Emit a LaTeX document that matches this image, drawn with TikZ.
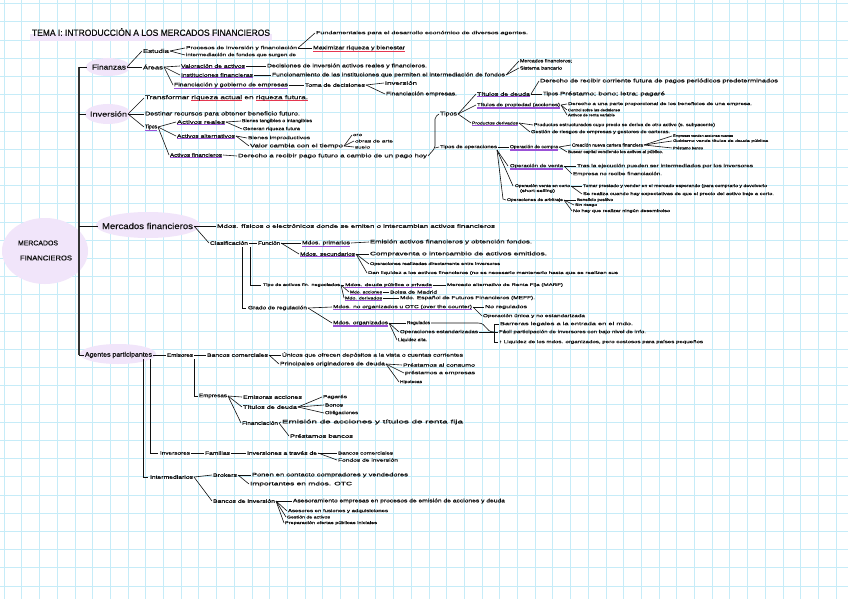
\documentclass[tikz,border=0pt]{standalone}
\usepackage{fontspec}
\setmainfont{Liberation Sans}
\newfontfamily\hw{Liberation Sans}[FakeBold=0.7]
\usepackage{graphicx}
\definecolor{ink}{HTML}{101010}
\definecolor{gridc}{HTML}{C6ECF8}
\definecolor{blobc}{HTML}{F1E5FA}
\definecolor{ulp}{HTML}{9B52D8}
\definecolor{ulr}{HTML}{E5364F}
\newcommand\tx[5]{\node[t] (#1) at (#2) {\resizebox{#3pt}{\height}{\hw\fontsize{#4}{#4}\selectfont #5}};}
\newcommand\lk[2]{\draw[c] ([xshift=1pt]#1.east) -- ([xshift=-1pt]#2.west);}
\newcommand\pu[1]{\draw[ulp,line width=1.2pt] ([yshift=-0.8pt]#1.south west) -- ([yshift=-0.8pt]#1.south east);}
\newcommand\ru[1]{\draw[ulr,line width=1.2pt] ([yshift=-0.8pt]#1.south west) -- ([yshift=-0.8pt]#1.south east);}
\newcommand\rul[1]{\setbox0\hbox{#1}\rlap{\textcolor{ulr}{\rule[-0.3em]{\wd0}{0.2em}}}\box0}
\tikzset{
  t/.style={anchor=west,inner sep=0pt,outer sep=0pt,text=ink},
  c/.style={draw=ink,line width=0.6pt},
  spine/.style={draw=ink!85,line width=1.2pt},
  gridl/.style={draw=gridc,line width=0.5pt},
  blob/.style={fill=blobc}
}
\begin{document}
\begin{tikzpicture}[x=1pt,y=-1pt]
\useasboundingbox (0,0) rectangle (848,599);
\fill[white] (0,0) rectangle (848,599);
\foreach \i in {0,...,48} \draw[gridl] ({4+\i*17.7},0) -- ++(0,599);
\foreach \j in {0,...,33} \draw[gridl] (0,{3.5+\j*18.2}) -- ++(848,0);
% blobs
\fill[blob] (30,34) rectangle (272,41);
\fill[blob] (45,251) ellipse [x radius=43pt, y radius=33pt];
\fill[blob] (108,67) ellipse [x radius=22pt, y radius=9pt];
\fill[blob] (108,114) ellipse [x radius=23pt, y radius=10pt];
\fill[blob] (148,225) ellipse [x radius=52pt, y radius=13pt];
\fill[blob] (118,354) ellipse [x radius=38pt, y radius=10pt];
% title and root
\tx{title}{32,32}{238}{9}{TEMA I: INTRODUCCIÓN A LOS MERCADOS FINANCIEROS}
\tx{root1}{18,243}{40}{7}{MERCADOS}
\tx{root2}{20,258}{52}{7}{FINANCIEROS}
% Finanzas
\tx{fin}{92,67}{34}{7}{Finanzas}
\tx{est}{143,51}{26}{5.5}{Estudia}
\tx{areas}{143,67}{20}{5.5}{Áreas}
\tx{proc}{186,48}{111}{4.5}{Procesos de inversión y financiación}
\tx{interm}{186,55}{110}{4.5}{intermediación de fondos que surgen de}
\tx{fund}{316,33}{212}{4.5}{Fundamentales para el desarrollo económico de diversos agentes.}
\tx{max}{313,48}{92}{5}{Maximizar riqueza y bienestar}
\tx{val}{181,66}{64}{5}{Valoración de activos}
\tx{dec}{267,66}{160}{5}{Decisiones de inversión activos reales y financieros.}
\tx{inst}{181,75}{72}{5}{Instituciones financieras}
\tx{func}{272,75}{233}{5}{Funcionamiento de las instituciones que permiten el intermediación de fondos}
\tx{mfa}{520,61}{52}{4.5}{Mercados financieros;}
\tx{sb}{520,68}{42}{4.5}{Sistema bancario}
\tx{fge}{174,85}{114}{5}{Financiación y gobierno de empresas}
\tx{toma}{305,85}{60}{5}{Toma de decisiones}
\tx{inva}{385,83}{32}{5}{Inversión}
\tx{finemp}{386,94}{71}{5}{Financiación empresas.}
% Inversion
\tx{inv}{90,114}{37}{7}{Inversión}
\tx{transf}{145,98}{163}{5.5}{Transformar\ \rul{riqueza actual}\ en\ \rul{riqueza futura.}}
\tx{dest}{145,114}{155}{5.5}{Destinar recursos para obtener beneficio futuro.}
\tx{tiposa}{145,127}{12}{5.5}{Tipos}
\tx{ar}{177,122}{48}{5}{Activos reales}
\tx{bt}{242,121}{70}{4.5}{Bienes tangibles o intangibles}
\tx{gr}{243,129}{57}{4.5}{Generan riqueza futura}
\tx{aalt}{177,136}{58}{5}{Activos alternativos}
\tx{bi}{248,138}{62}{4.5}{Bienes improductivos}
\tx{vc}{250,146}{93}{5}{Valor cambia con el tiempo}
\tx{oro}{353,135}{9}{4}{oro}
\tx{obras}{355,141}{38}{4}{obras de arte}
\tx{suelo}{355,147}{15}{4}{suelo}
\tx{af}{170,155}{52}{5}{Activos financieros}
\tx{der}{238,156}{189}{5}{Derecho a recibir pago futuro a cambio de un pago hoy}
% Tipos (right)
\tx{tiposb}{440,114}{17}{5.5}{Tipos}
\tx{tdeuda}{477,94}{53}{5}{Títulos de deuda}
\tx{derecho}{540,81}{238}{5}{Derecho de recibir corriente futura de pagos periódicos predeterminados}
\tx{tiposc}{543,94}{15}{5}{Tipos}
\tx{prest}{560,94}{105}{5}{Préstamo; bono; letra; pagaré}
\tx{tprop}{477,105}{83}{4.5}{Títulos de propiedad (acciones)}
\tx{dparte}{568,104}{184}{4}{Derecho a una parte proporcional de los beneficios de una empresa.}
\tx{control}{568,110}{52}{3.5}{Control sobre las decisiones}
\tx{arv}{568,115}{47}{3.5}{Activos de renta variable}
\tx{pder}{472,123}{46}{4}{Productos derivados}
\tx{pest}{534,125}{181}{4.3}{Productos estructurados cuyo precio se deriva de otro activo (s. subyacente)}
\tx{gest}{531,132}{139}{4.3}{Gestión de riesgos de empresas y gestores de carteras.}
\tx{tdo}{440,147}{57}{4.5}{Tipos de operaciones}
\tx{opc}{510,147}{48}{4.5}{Operación de compra}
\tx{cnc}{572,145}{71}{4.5}{Creación nueva cartera financiera}
\tx{evan}{673,136}{60}{3.5}{Empresas venden acciones nuevas}
\tx{gvt}{673,141}{95}{3.5}{Gobierno vende títulos de deuda pública}
\tx{pb}{673,148}{30}{3.5}{Préstamo banco}
\tx{bcap}{568,152}{95}{4}{Buscar capital vendiendo los activos al público.}
\tx{opv}{510,166}{53}{4.5}{Operación de venta}
\tx{tras}{577,166}{176}{4.5}{Tras la ejecución pueden ser intermediados por los inversores}
\tx{enr}{573,174}{89}{4.5}{Empresa no recibe financiación.}
\tx{ovc}{515,186}{55}{3.8}{Operación venta en corto}
\tx{ovcb}{520,191}{35}{3.8}{(short-selling)}
\tx{tomar}{583,186}{184}{4}{Tomar prestado y vender en el mercado esperando (para comprarlo y devolverlo}
\tx{serea}{583,194}{191}{4}{Se realiza cuando hay expectativas de que el precio del activo baje a corto.}
\tx{oarb}{507,200}{56}{3.8}{Operaciones de arbitraje}
\tx{benp}{577,200}{36}{3.8}{Beneficio positivo}
\tx{sinr}{575,205}{22}{3.5}{Sin riesgo}
\tx{nohay}{573,211}{97}{3.8}{No hay que realizar ningún desembolso}
% Mercados financieros
\tx{mf}{102,226}{91}{8.5}{Mercados financieros}
\tx{mfd}{217,226}{278}{5}{Mdos. físicos o electrónicos donde se emiten o intercambian activos financieros}
\tx{clas}{210,243}{38}{5}{Clasificación}
\tx{funcb}{258,243}{22}{5}{Función}
\tx{mp}{302,243}{48}{5}{Mdos. primarios}
\tx{emis}{370,242}{162}{5}{Emisión activos financieros y obtención fondos.}
\tx{ms}{300,254}{55}{5}{Mdos. secundarios}
\tx{comp}{370,254}{177}{5}{Compraventa o intercambio de activos emitidos.}
\tx{oprd}{370,264}{130}{3.8}{Operaciones realizadas directamente entre inversores}
\tx{dan}{368,273}{250}{3.8}{Dan liquidez a los activos financieros (no es necesario mantenerlo hasta que se realizan sus}
\tx{tan}{263,285}{77}{3.8}{Tipo de activos fin. negociados}
\tx{mdp}{345,285}{87}{3.8}{Mdos. deuda pública o privada}
\tx{marf}{447,285}{116}{3.8}{Mercado alternativo de Renta Fija (MARF)}
\tx{mac}{350,292}{32}{3.8}{Mdo. acciones}
\tx{bm}{390,292}{47}{4.2}{Bolsa de Madrid}
\tx{mdv}{345,298}{37}{3.8}{Mdo. derivados}
\tx{meff}{400,298}{135}{4.5}{Mdo. Español de Futuros Financieros (MEFF).}
\tx{grado}{248,308}{59}{4.8}{Grado de regulación}
\tx{otc}{333,307}{139}{4.5}{Mdos. no organizados u OTC (over the counter)}
\tx{nreg}{485,307}{42}{4.5}{No regulados}
\tx{ounica}{483,316}{102}{4.2}{Operación única y no estandarizada}
\tx{morg}{333,323}{55}{4.8}{Mdos. organizados}
\tx{reg}{407,323}{23}{4.5}{Regulados}
\tx{oest}{400,332}{78}{4.5}{Operaciones estandarizadas}
\tx{liq}{398,340}{29}{4.5}{Liquidez alta.}
\tx{barr}{500,324}{133}{4.5}{Barreras legales a la entrada en el mdo.}
\tx{facil}{499,332}{147}{4.5}{Fácil participación de inversores con bajo nivel de info.}
\tx{liqm}{499,342}{204}{4.2}{↑ Liquidez de los mdos. organizados, pero costosos para países pequeños}
% Agentes participantes
\tx{ag}{85,355}{67}{6.5}{Agentes participantes}
\tx{emi}{167,355}{26}{5}{Emisores}
\tx{bc}{207,355}{61}{5}{Bancos comerciales}
\tx{unic}{282,355}{181}{5}{Únicos que ofrecen depósitos a la vista o cuentas corrientes}
\tx{porig}{280,364}{105}{5}{Principales originadores de deuda}
\tx{pcons}{403,365}{72}{4.5}{Préstamos al consumo}
\tx{pemp}{405,373}{70}{4.5}{préstamos a empresas}
\tx{hip}{400,382}{22}{4}{Hipotecas}
\tx{empr}{199,396}{28}{5}{Empresas}
\tx{eacc}{243,397}{59}{5}{Emisoras acciones}
\tx{tdd}{243,407}{54}{5}{Títulos de deuda}
\tx{pag}{323,397}{24}{4.5}{Pagarés}
\tx{bon}{325,405}{18}{4.5}{Bonos}
\tx{obl}{325,413}{33}{4.5}{Obligaciones}
\tx{finc}{242,423}{36}{5}{Financiación}
\tx{emac}{282,422}{181}{5}{Emisión de acciones y títulos de renta fija}
\tx{pban}{290,436}{63}{5}{Préstamos bancos}
\tx{invs}{160,453}{30}{5}{Inversores}
\tx{fam}{205,453}{25}{5}{Familias}
\tx{itd}{247,453}{70}{5}{Inversiones a través de}
\tx{bcom}{338,453}{55}{4.2}{Bancos comerciales}
\tx{finv}{338,460}{60}{4.2}{Fondos de inversión}
\tx{intm}{150,477}{43}{5}{Intermediarios}
\tx{brok}{213,475}{24}{5}{Brokers}
\tx{ponen}{252,475}{156}{5}{Ponen en contacto compradores y vendedores}
\tx{imp}{250,484}{102}{5}{Importantes en mdos. OTC}
\tx{binv}{213,501}{62}{5}{Bancos de inversión}
\tx{ases}{293,501}{212}{5}{Asesoramiento empresas en procesos de emisión de acciones y deuda}
\tx{afus}{288,511}{100}{4.2}{Asesores en fusiones y adquisiciones}
\tx{gact}{287,517}{43}{3.8}{Gestión de activos}
\tx{prep}{285,523}{92}{3.8}{Preparación ofertas públicas iniciales}
% underlines
\ru{max}
\foreach \n in {val,inst,fge,tiposa,ar,aalt,af,tdeuda,tprop,pder,opc,opv,mp,ms,mdp,mac,mdv,otc,morg} {\pu{\n}}
% spine
\coordinate (sp1) at (79,67);
\coordinate (sp2) at (79,114);
\coordinate (sp3) at (79,226);
\coordinate (sp4) at (79,355);
\draw[spine] (sp1) -- (sp4);
\draw[c] (sp1) -- ([xshift=-5pt]fin.west);
\draw[c] (sp2) -- ([xshift=-4pt]inv.west);
\draw[c] (sp3) -- ([xshift=-4pt]mf.west);
\draw[c] (sp4) -- ([xshift=-1pt]ag.west);
% Finanzas links
\lk{fin}{est} \lk{fin}{areas}
\lk{est}{proc} \lk{est}{interm}
\lk{proc}{max} \lk{proc}{fund}
\lk{areas}{val} \lk{areas}{inst} \lk{areas}{fge}
\lk{val}{dec} \lk{inst}{func} \lk{func}{mfa} \lk{func}{sb}
\lk{fge}{toma} \lk{toma}{inva} \lk{toma}{finemp}
% Inversion links
\lk{inv}{transf} \lk{inv}{dest} \lk{inv}{tiposa}
\lk{tiposa}{ar} \lk{tiposa}{aalt} \lk{tiposa}{af}
\lk{ar}{bt} \lk{ar}{gr} \lk{aalt}{bi} \lk{aalt}{vc}
\lk{vc}{oro} \lk{vc}{obras} \lk{vc}{suelo}
\lk{af}{der}
\coordinate (brA) at (435,148);
\draw[c,rounded corners=2pt] ([xshift=1pt]der.east) -- (brA) -- (435,117) -- ([xshift=-1pt]tiposb.west);
\draw[c] (brA) -- ([xshift=-1pt]tdo.west);
\lk{tiposb}{tdeuda} \lk{tiposb}{tprop} \lk{tiposb}{pder}
\lk{tdeuda}{derecho} \lk{tdeuda}{tiposc} \lk{tiposc}{prest}
\lk{tprop}{dparte} \lk{tprop}{control} \lk{tprop}{arv}
\lk{pder}{pest} \lk{pder}{gest}
\lk{tdo}{opc} \lk{opc}{cnc} \lk{opc}{bcap}
\lk{cnc}{evan} \lk{cnc}{gvt} \lk{cnc}{pb}
\coordinate (tf) at (497,150);
\draw[c] (tf) -- ([xshift=-2pt]opv.west);
\draw[c] (tf) -- ([xshift=-2pt]ovc.west);
\draw[c] (tf) -- (503,199) -- ([xshift=-1pt]oarb.west);
\lk{opv}{tras} \lk{opv}{enr}
\lk{ovc}{tomar} \lk{ovc}{serea}
\lk{oarb}{benp} \lk{oarb}{sinr} \lk{oarb}{nohay}
% Mercados links
\lk{mf}{mfd} \lk{mf}{clas} \lk{clas}{funcb}
\lk{funcb}{mp} \lk{funcb}{ms} \lk{mp}{emis}
\lk{ms}{comp} \lk{ms}{oprd} \lk{ms}{dan}
\coordinate (cv1) at (242,247);
\coordinate (cv2) at (250,247);
\draw[c] (cv2) |- ([xshift=-2pt]tan.west);
\draw[c] (cv1) |- ([xshift=-2pt]grado.west);
\lk{tan}{mdp} \lk{tan}{mac} \lk{tan}{mdv}
\lk{mdp}{marf} \lk{mac}{bm} \lk{mdv}{meff}
\lk{grado}{otc} \lk{grado}{morg}
\lk{otc}{nreg} \lk{otc}{ounica}
\lk{morg}{reg} \lk{morg}{oest} \lk{morg}{liq}
\coordinate (rb) at (494,332);
\draw[c] ([xshift=1pt]reg.east) -- (478,323) .. controls (487,323) and (485,332) .. (rb);
\draw[c] ([xshift=1pt]oest.east) -- (rb);
\draw[c] ([xshift=-1pt]barr.west) -- (494,324) -- (494,342) -- ([xshift=-1pt]liqm.west);
\draw[c] (rb) -- ([xshift=-1pt]facil.west);
% Agentes links
\lk{ag}{emi} \lk{emi}{bc} \lk{bc}{unic} \lk{bc}{porig}
\lk{porig}{pcons} \lk{porig}{pemp} \lk{porig}{hip}
\coordinate (ev) at (194,359);
\draw[c] (ev) |- ([xshift=-1pt]empr.west);
\lk{empr}{eacc} \lk{empr}{tdd} \lk{empr}{finc}
\lk{tdd}{pag} \lk{tdd}{bon} \lk{tdd}{obl}
\lk{finc}{emac} \lk{finc}{pban}
\coordinate (av1) at (143,359);
\coordinate (av2) at (150,359);
\draw[c] (av2) |- ([xshift=-2pt]invs.west);
\draw[c] (av1) |- ([xshift=-2pt]intm.west);
\lk{invs}{fam} \lk{fam}{itd} \lk{itd}{bcom} \lk{itd}{finv}
\lk{intm}{brok} \lk{intm}{binv}
\lk{brok}{ponen} \lk{brok}{imp}
\lk{binv}{ases} \lk{binv}{afus} \lk{binv}{gact} \lk{binv}{prep}
\end{tikzpicture}
\end{document}
